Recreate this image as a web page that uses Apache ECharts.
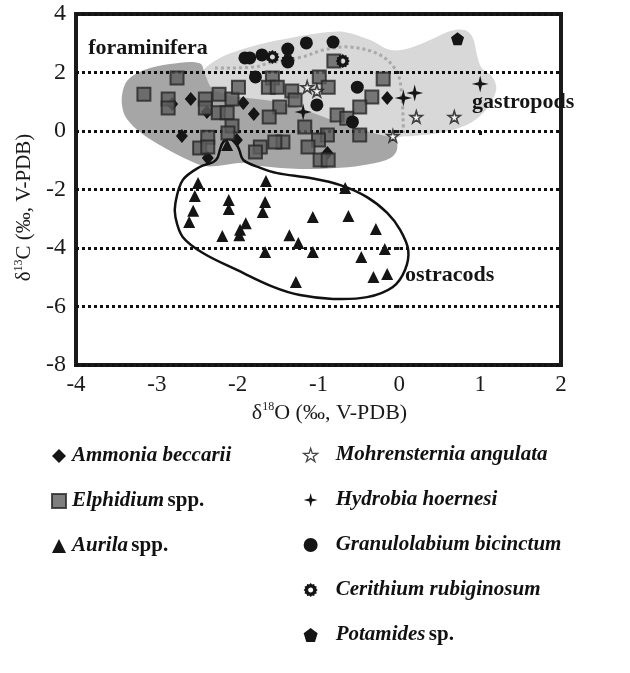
<!DOCTYPE html>
<html><head><meta charset="utf-8">
<script src="https://cdn.jsdelivr.net/npm/echarts@6/dist/echarts.min.js"></script>
<style>html,body{margin:0;padding:0;background:#fff}#c{width:630px;height:673px}</style>
</head><body><div id="c"></div>
<script>
// ---- data (δ18O, δ13C) ----
const ammonia = [[-2.58,1.09],[-2.38,0.65],[-2.69,-0.17],[-2.37,-0.92],[-2.01,-0.31],[-1.93,0.96],[-1.80,0.58],[-0.15,1.13],[-0.89,-0.75],[-2.81,0.92]];
const elphidium = [[-2.75,1.81],[-3.16,1.26],[-2.86,1.09],[-2.86,0.79],[-2.40,1.09],[-2.40,0.79],[-2.23,1.26],[-2.07,1.09],[-1.99,1.50],[-2.24,0.62],[-2.13,0.62],[-2.07,0.17],[-2.12,-0.07],[-2.37,-0.21],[-2.47,-0.58],[-2.37,-0.55],[-1.57,1.81],[-1.62,1.50],[-1.51,1.50],[-1.33,1.37],[-1.29,1.06],[-1.48,0.82],[-1.61,0.48],[-0.99,1.85],[-0.88,1.50],[-0.34,1.16],[-0.49,0.82],[-0.77,0.55],[-0.65,0.44],[-1.17,0.14],[-0.89,-0.14],[-1.00,-0.31],[-1.13,-0.55],[-0.98,-0.99],[-0.88,-0.99],[-1.44,-0.38],[-1.54,-0.38],[-1.72,-0.55],[-1.78,-0.72],[-0.49,-0.14],[-0.20,1.78],[-0.81,2.39]];
const aurila = [[-2.49,-1.78],[-2.53,-2.22],[-2.55,-2.73],[-2.60,-3.11],[-2.11,-2.36],[-2.11,-2.67],[-1.65,-1.71],[-1.66,-2.43],[-1.69,-2.77],[-1.90,-3.15],[-1.97,-3.38],[-1.98,-3.56],[-2.19,-3.59],[-1.66,-4.14],[-1.36,-3.56],[-1.25,-3.83],[-1.07,-4.14],[-1.28,-5.16],[-1.07,-2.94],[-0.67,-1.95],[-0.63,-2.91],[-0.29,-3.35],[-0.18,-4.03],[-0.47,-4.31],[-0.32,-4.99],[-0.15,-4.89],[-2.13,-0.48]];
const mohrensternia = [[-1.14,1.50],[-1.02,1.37],[0.21,0.48],[0.68,0.48],[-0.08,-0.17]];
const hydrobia = [[-1.19,0.65],[0.05,1.13],[0.19,1.30],[1.00,1.61]];
const granulolabium = [[-1.91,2.50],[-1.85,2.50],[-1.70,2.60],[-1.38,2.80],[-1.15,3.01],[-0.82,3.04],[-1.78,1.85],[-0.52,1.50],[-1.02,0.89],[-0.58,0.31],[-1.38,2.36]];
const cerithium = [[-1.57,2.53],[-1.38,2.40],[-0.70,2.39]];
const potamides = [[0.72,3.15]];

// region outlines (data units)
const gastropodArea = [[-2.47,1.23],[-2.49,1.74],[-2.40,2.15],[-2.22,2.50],[-1.97,2.77],[-1.66,3.01],[-1.35,3.18],[-0.98,3.35],[-0.67,3.38],[-0.36,3.11],[-0.11,2.77],[0.13,2.84],[0.38,3.11],[0.63,3.42],[0.81,3.45],[0.91,3.18],[0.96,2.60],[1.02,2.15],[1.15,1.85],[1.20,1.47],[1.15,1.06],[1.04,0.62],[0.84,0.21],[0.50,-0.07],[0.17,-0.17],[-0.03,-0.24],[-0.18,-0.65],[-0.30,-0.99],[-0.73,-1.06],[-1.23,-0.65],[-1.97,0.38],[-2.40,0.89]];
const foraminiferaArea = [[-3.42,0.72],[-3.43,1.23],[-3.36,1.74],[-3.15,2.09],[-2.84,2.29],[-2.47,2.32],[-2.40,1.91],[-2.32,1.47],[-2.16,1.26],[-1.97,1.16],[-1.44,0.96],[-1.10,0.65],[-0.73,0.27],[-0.32,-0.07],[-0.05,-0.31],[-0.03,-0.65],[-0.11,-0.92],[-0.36,-1.13],[-0.73,-1.26],[-1.23,-1.30],[-1.72,-1.20],[-1.91,-1.09],[-2.16,-1.16],[-2.40,-1.20],[-2.61,-0.99],[-2.90,-0.58],[-3.21,-0.03],[-3.36,0.38]];
const ostracodArea = [[-2.30,-1.06],[-2.47,-1.23],[-2.68,-1.68],[-2.77,-2.46],[-2.77,-2.94],[-2.68,-3.62],[-2.43,-4.17],[-2.01,-4.75],[-1.56,-5.33],[-1.23,-5.61],[-0.82,-5.74],[-0.40,-5.68],[-0.08,-5.33],[0.07,-4.75],[0.11,-4.07],[0.01,-3.38],[-0.15,-2.80],[-0.40,-2.26],[-0.73,-1.85],[-1.10,-1.61],[-1.51,-1.44],[-1.72,-1.26],[-1.93,-0.99],[-1.98,-0.65],[-2.03,-0.38],[-2.11,-0.27],[-2.18,-0.38],[-2.22,-0.65],[-2.25,-0.92]];
const dottedDivide = [[-2.28,2.15],[-1.78,2.19],[-1.62,2.32],[-1.20,2.53],[-0.94,2.77],[-0.61,2.87],[-0.24,2.60],[-0.03,2.02],[0.03,1.23],[0.05,-0.07]];

const regionLabels = ['foraminifera','gastropods','ostracods'];
const regionLabelPos = [[-3.85,2.84],[0.90,0.99],[0.07,-4.92]];

const xTicks = {min:-4, max:2, step:1};
const yTicks = {min:-8, max:4, step:2};

const seriesNames = ['Ammonia beccarii','Elphidium spp.','Aurila spp.','Mohrensternia angulata','Hydrobia hoernesi','Granulolabium bicinctum','Cerithium rubiginosum','Potamides sp.'];

// ---- symbols ----
const starPath = 'path://M50,0 L61,35 L98,35 L68,57 L79,91 L50,70 L21,91 L32,57 L2,35 L39,35 Z';
const star4Path = 'path://M50,0 L60,40 L100,50 L60,60 L50,100 L40,60 L0,50 L40,40 Z';
const pentPath = 'path://M50,0 L100,38 L81,100 L19,100 L0,38 Z';
function gearPath(){
  let s = 'path://';
  const n = 12;
  for (let i = 0; i < 2*n; i++) {
    const r = i % 2 === 0 ? 50 : 41;
    const a = Math.PI * i / n;
    s += (i === 0 ? 'M' : 'L') + (50 + r*Math.sin(a)).toFixed(2) + ',' + (50 - r*Math.cos(a)).toFixed(2) + ' ';
  }
  s += 'Z ';
  const m = 16;
  for (let i = 0; i < m; i++) {
    const a = -2*Math.PI*i/m;
    s += (i === 0 ? 'M' : 'L') + (50 + 18*Math.sin(a)).toFixed(2) + ',' + (50 - 18*Math.cos(a)).toFixed(2) + ' ';
  }
  return s + 'Z';
}
const gear = gearPath();

const FONT = '"Liberation Serif","Times New Roman",serif';
const chart = echarts.init(document.getElementById('c'), null, {renderer:'canvas'});

function areaSeries(points, style, z, closed) {
  return {
    type:'custom', coordinateSystem:'cartesian2d', silent:true, z:z,
    data:[points[0]], clip:false,
    renderItem:function(params, api){
      const pts = points.map(p => api.coord(p));
      return {type: closed ? 'polygon' : 'polyline', shape:{points:pts, smooth:0.35}, style:style};
    }
  };
}

function scat(name, data, symbol, size, color, extra) {
  return Object.assign({
    name:name, type:'scatter', data:data, symbol:symbol, symbolSize:size, z:5,
    itemStyle:{color:color, opacity:1}
  }, extra||{});
}

function makeRich(pad){
  return {
    p:{width:pad, height:10},
    i:{fontFamily:FONT, fontSize:21, fontStyle:'italic', fontWeight:'bold', color:'#111'},
    n:{fontFamily:FONT, fontSize:21, fontWeight:'bold', color:'#111'}
  };
}
function legendFmt(name){
  const m = name.match(/^(.*) (spp?\.)$/);
  if (m) return '{p|}{i|' + m[1] + '} {n|' + m[2] + '}';
  return '{p|}{i|' + name + '}';
}

chart.setOption({
  animation:false,
  backgroundColor:'#fff',
  grid:{left:76, right:69, top:14, bottom:308, show:true, borderColor:'#1a1a1a', borderWidth:4, backgroundColor:'transparent'},
  xAxis:{
    type:'value', min:xTicks.min, max:xTicks.max, interval:xTicks.step,
    axisLine:{show:false}, splitLine:{show:false},
    axisTick:{show:true, length:4, lineStyle:{color:'#1a1a1a', width:3}},
    axisLabel:{fontFamily:FONT, fontSize:23, color:'#1a1a1a', margin:8},
    name:'{a|δ}{s|18}{a|O (‰, V-PDB)}', nameLocation:'middle', nameGap:36,
    nameTextStyle:{padding:[0,0,0,22], rich:{a:{fontFamily:FONT, fontSize:22, color:'#1a1a1a'}, s:{fontFamily:FONT, fontSize:12, color:'#1a1a1a', padding:[0,0,12,0]}}}
  },
  yAxis:{
    type:'value', min:yTicks.min, max:yTicks.max, interval:yTicks.step, z:3,
    axisLine:{show:false},
    splitLine:{show:true, lineStyle:{color:'#111', width:3, type:[3,3]}},
    axisTick:{show:true, length:4, lineStyle:{color:'#1a1a1a', width:3}},
    axisLabel:{fontFamily:FONT, fontSize:24, color:'#1a1a1a', margin:10},
    name:'{a|δ}{s|13}{a|C (‰, V-PDB)}', nameLocation:'middle', nameGap:33, nameRotate:90,
    nameTextStyle:{padding:[0,36,0,0], rich:{a:{fontFamily:FONT, fontSize:21, color:'#1a1a1a'}, s:{fontFamily:FONT, fontSize:12, color:'#1a1a1a', padding:[0,0,12,0]}}}
  },
  legend:[
    {data:seriesNames.slice(0,3), orient:'vertical', left:46, top:439, itemWidth:14, itemHeight:14, itemGap:21,
     formatter:legendFmt, textStyle:{rich:makeRich(1), lineHeight:24}},
    {data:[
       {name:seriesNames[3], icon:starPath, itemStyle:{color:'#fff', borderColor:'#151515', borderWidth:1.3}},
       {name:seriesNames[4], icon:star4Path},
       {name:seriesNames[5], icon:'circle'},
       {name:seriesNames[6], icon:gear},
       {name:seriesNames[7], icon:pentPath}
     ], orient:'vertical', left:298, top:438, itemWidth:14, itemHeight:14, itemGap:21,
     formatter:legendFmt, textStyle:{rich:makeRich(13), lineHeight:24}}
  ],
  series:[
    areaSeries(gastropodArea, {fill:'#d8d8d8', stroke:null}, 1, true),
    areaSeries(foraminiferaArea, {fill:'#a6a6a6', stroke:null}, 1, true),
    areaSeries(dottedDivide, {fill:null, stroke:'#a9a9a9', lineWidth:3, lineDash:[3,3]}, 2, false),
    areaSeries(ostracodArea, {fill:null, stroke:'#111', lineWidth:2.5}, 4, true),
    {
      type:'custom', coordinateSystem:'cartesian2d', silent:true, z:6, clip:false,
      data: regionLabelPos,
      renderItem:function(params, api){
        const c = api.coord([api.value(0), api.value(1)]);
        return {type:'text', x:c[0], y:c[1], style:{text:regionLabels[params.dataIndex], fill:'#151515',
          font:'bold 22px ' + FONT, textAlign:'left', textVerticalAlign:'middle'}};
      }
    },
    scat(seriesNames[0], ammonia, 'diamond', [12,14], '#151515'),
    scat(seriesNames[1], elphidium, 'rect', 13, '#5e5e5e', {itemStyle:{color:'#5e5e5e', borderColor:'#252525', borderWidth:2}}),
    scat(seriesNames[2], aurila, 'triangle', 12, '#151515'),
    scat(seriesNames[3], mohrensternia, starPath, 12, '#fff', {itemStyle:{color:'#fff', borderColor:'#151515', borderWidth:1.6}}),
    scat(seriesNames[4], hydrobia, star4Path, 17, '#151515'),
    scat(seriesNames[5], granulolabium, 'circle', 13, '#151515'),
    scat(seriesNames[6], cerithium, gear, 14, '#151515'),
    scat(seriesNames[7], potamides, pentPath, 13, '#151515')
  ]
});
</script></body></html>
